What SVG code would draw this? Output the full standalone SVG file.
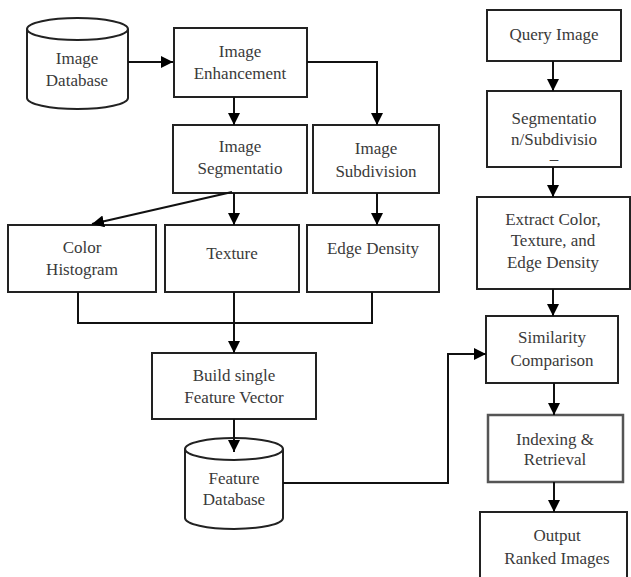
<svg xmlns="http://www.w3.org/2000/svg" width="631" height="577" viewBox="0 0 631 577">
<defs>
<marker id="arr" markerUnits="userSpaceOnUse" markerWidth="13" markerHeight="12" refX="12" refY="6" orient="auto">
<path d="M0,0 L12,6 L0,12 z" fill="#000"/>
</marker>
<style>
.box{fill:#fff;stroke:#222;stroke-width:2}
.cyl{fill:#fff;stroke:#222;stroke-width:2}
.t{font-family:'Liberation Serif','DejaVu Serif',serif;font-size:17px;fill:#3a3a3a;text-anchor:middle}
.c{fill:none;stroke:#111;stroke-width:2}
.ca{fill:none;stroke:#111;stroke-width:2;marker-end:url(#arr)}
</style>
</defs>
<rect width="631" height="577" fill="#fff"/>

<g id="image-database">
<path class="cyl" d="M27,29 V98 A50.5,11 0 0,0 128,98 V29"/>
<ellipse class="cyl" cx="77.5" cy="29" rx="50.5" ry="11"/>
<text class="t" x="77" y="64">Image</text>
<text class="t" x="77" y="86">Database</text>
</g>

<g id="image-enhancement">
<rect class="box" x="174" y="28" width="133" height="69"/>
<text class="t" x="240" y="57">Image</text>
<text class="t" x="240" y="79">Enhancement</text>
</g>

<g id="image-segmentation">
<rect class="box" x="173" y="125" width="134" height="68"/>
<text class="t" x="240" y="152">Image</text>
<text class="t" x="240" y="174">Segmentatio</text>
</g>

<g id="image-subdivision">
<rect class="box" x="313" y="125" width="126" height="68"/>
<text class="t" x="376" y="154">Image</text>
<text class="t" x="376" y="177">Subdivision</text>
</g>

<g id="color-histogram">
<rect class="box" x="8" y="225" width="148" height="67"/>
<text class="t" x="82" y="253">Color</text>
<text class="t" x="82" y="275">Histogram</text>
</g>

<g id="texture">
<rect class="box" x="165" y="225" width="134" height="67"/>
<text class="t" x="232" y="259">Texture</text>
</g>

<g id="edge-density">
<rect class="box" x="307" y="225" width="132" height="67"/>
<text class="t" x="373" y="254">Edge Density</text>
</g>

<g id="build-feature-vector">
<rect class="box" x="152" y="353" width="164" height="66"/>
<text class="t" x="234" y="381">Build single</text>
<text class="t" x="234" y="403">Feature Vector</text>
</g>

<g id="feature-database">
<path class="cyl" d="M185,449 V518 A49,11 0 0,0 283,518 V449"/>
<ellipse class="cyl" cx="234" cy="449" rx="49" ry="11"/>
<text class="t" x="234" y="484">Feature</text>
<text class="t" x="234" y="505">Database</text>
</g>

<g id="query-image">
<rect class="box" x="487" y="10" width="134" height="51"/>
<text class="t" x="554" y="40">Query Image</text>
</g>

<g id="segmentation-subdivision">
<rect class="box" x="487" y="91" width="134" height="76"/>
<text class="t" x="554" y="124">Segmentatio</text>
<text class="t" x="554" y="145">n/Subdivisio</text>
<text class="t" x="554" y="164">–</text>
</g>

<g id="extract-features">
<rect class="box" x="477" y="197" width="153" height="92"/>
<text class="t" x="553" y="225">Extract Color,</text>
<text class="t" x="553" y="246">Texture, and</text>
<text class="t" x="553" y="268">Edge Density</text>
</g>

<g id="similarity-comparison">
<rect class="box" x="486" y="316" width="132" height="67"/>
<text class="t" x="552" y="343">Similarity</text>
<text class="t" x="552" y="366">Comparison</text>
</g>

<g id="indexing-retrieval">
<rect class="box" x="488" y="415" width="135" height="67" style="stroke:#555;stroke-width:2.5"/>
<text class="t" x="555" y="445">Indexing &amp;</text>
<text class="t" x="555" y="465">Retrieval</text>
</g>

<g id="output-ranked-images">
<rect class="box" x="480" y="512" width="147" height="80"/>
<text class="t" x="557" y="541">Output</text>
<text class="t" x="557" y="564">Ranked Images</text>
</g>

<g id="connectors">
<path class="ca" d="M128,62 H173"/>
<path class="ca" d="M234,97 V125"/>
<path class="ca" d="M307,62 H377 V125"/>
<path class="ca" d="M234,193 V225"/>
<path class="ca" d="M232,192 L92,224"/>
<path class="ca" d="M377,193 V225"/>
<path class="c" d="M78,292 V323 H372 V292"/>
<path class="ca" d="M234,292 V353"/>
<path class="ca" d="M234,419 V452"/>
<path class="ca" d="M283,483 H448 V354 H486"/>
<path class="ca" d="M553,61 V91"/>
<path class="ca" d="M553,167 V197"/>
<path class="ca" d="M553,289 V316"/>
<path class="ca" d="M554,383 V415"/>
<path class="ca" d="M554,482 V512"/>
</g>
</svg>
